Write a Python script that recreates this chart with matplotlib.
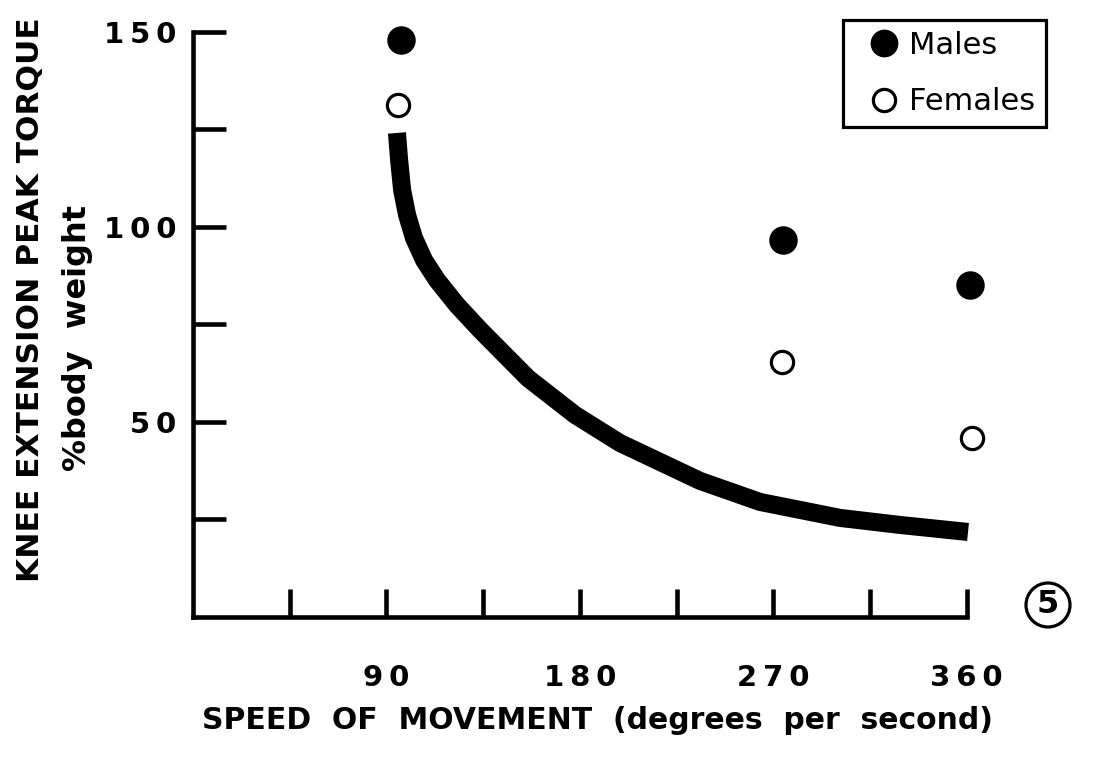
import matplotlib
matplotlib.use("Agg")
import matplotlib.pyplot as plt
from matplotlib.lines import Line2D
from matplotlib.patches import Circle

plt.rcParams['font.family'] = ['DejaVu Sans']

# data
male_speed = [96.8, 274.5, 361.6]
male_torque = [148, 96.7, 85.1]
female_speed = [95.4, 274, 362.5]
female_torque = [131.3, 65.4, 45.9]

# points along the thick fitted curve
curve_speed = [94.9, 95.9, 97.3, 99.6, 102.8, 107.5, 113.5, 122.8, 133.6,
               155.9, 177.8, 198.7, 235.9, 263.8, 301.1, 329.0, 360.6]
curve_torque = [124.1, 117.2, 109.5, 103.1, 97.2, 91.5, 86.4, 80.0, 73.6,
                61.2, 51.8, 44.6, 34.9, 29.5, 25.4, 23.6, 21.8]

thin = '\u2009'
x_ticks = [45, 90, 135, 180, 225, 270, 315, 360]
x_labels = ['', '90', '', '180', '', '270', '', '360']
y_ticks = [25, 50, 75, 100, 125, 150]
y_labels = ['', '50', '', '100', '', '150']

fig = plt.figure(figsize=(10.94, 7.73), dpi=100)
ax = fig.add_axes([0.1764, 0.2018, 0.7171, 0.767])

ax.plot(curve_speed, curve_torque, color='black', linewidth=13,
        solid_capstyle='butt', solid_joinstyle='round')
ax.plot(male_speed, male_torque, 'o', color='black', markersize=19.5, clip_on=False)
ax.plot(female_speed, female_torque, 'o', markerfacecolor='white',
        markeredgecolor='black', markeredgewidth=2.3, markersize=16, clip_on=False)

ax.set_xlim(0, 365)
ax.set_ylim(0, 152)
for s in ['top', 'right']:
    ax.spines[s].set_visible(False)
ax.spines['left'].set_bounds(0, 150)
ax.spines['bottom'].set_bounds(0, 360)
for s in ['left', 'bottom']:
    ax.spines[s].set_linewidth(3.3)

ax.set_xticks(x_ticks)
ax.set_xticklabels([thin.join(t) for t in x_labels], fontsize=21, fontweight='bold')
ax.set_yticks(y_ticks)
ax.set_yticklabels([thin.join(t) for t in y_labels], fontsize=21, fontweight='bold')
ax.tick_params(axis='x', direction='in', length=20, width=3.3, pad=34)
ax.tick_params(axis='y', direction='in', length=24, width=3.3, pad=12)

fig.text(0.546, 0.068, 'SPEED  OF  MOVEMENT  (degrees  per  second)', ha='center',
         va='center', fontsize=21.5, fontweight='bold')
fig.text(0.028, 0.612, 'KNEE EXTENSION PEAK TORQUE', rotation=90, ha='center',
         va='center', fontsize=22.5, fontweight='bold')
fig.text(0.071, 0.563, '%body  weight', rotation=90, ha='center',
         va='center', fontsize=23, fontweight='bold')

handles = [
    Line2D([], [], marker='o', linestyle='none', color='black', markersize=19),
    Line2D([], [], marker='o', linestyle='none', markerfacecolor='white',
           markeredgecolor='black', markeredgewidth=2.3, markersize=16),
]
leg = ax.legend(handles, ['Males', 'Females'], loc='upper left',
                bbox_to_anchor=(843 / 1094, 1 - 20 / 773),
                bbox_transform=fig.transFigure, frameon=True, fancybox=False,
                framealpha=1, prop={'size': 22}, handletextpad=-0.2,
                labelspacing=0.9, borderpad=0.35, borderaxespad=0,
                handlelength=2.0)
leg.get_frame().set_edgecolor('black')
leg.get_frame().set_linewidth(2.3)

# circled figure number at lower right
fig.patches.append(Circle((10.48, 7.73 - 6.05), 0.22, transform=fig.dpi_scale_trans,
                          fill=False, edgecolor='black', linewidth=2.3))
fig.text(10.48 / 10.94, 1 - 6.05 / 7.73, '5', ha='center', va='center',
         fontsize=23, fontweight='bold')

fig.savefig('out.png', dpi=100)
